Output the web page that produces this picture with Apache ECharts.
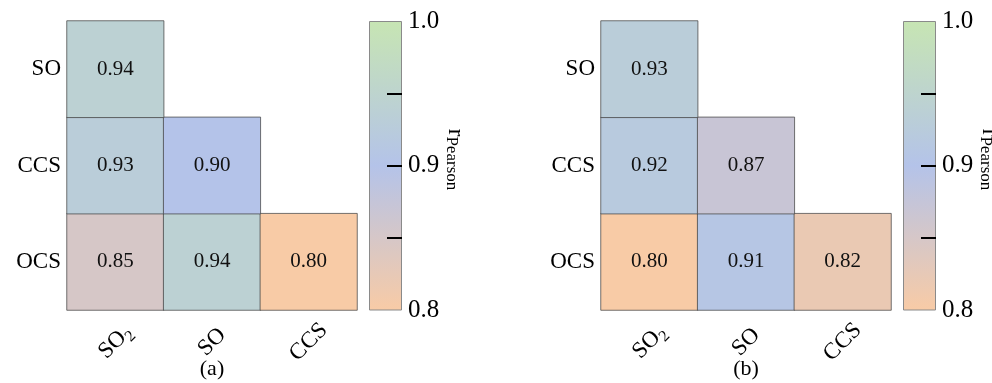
<!DOCTYPE html>
<html><head><meta charset="utf-8">
<script src="https://cdn.jsdelivr.net/npm/echarts@6/dist/echarts.min.js"></script>
<style>html,body{margin:0;padding:0;background:#fff}#c{width:992px;height:383px}</style>
</head><body><div id="c"></div>
<script>
// categories
const xCats = ['SO2', 'SO', 'CCS'];
const yCats = ['OCS', 'CCS', 'SO']; // bottom to top
// panel (a) rows (lower triangle), values by x category from left
const aRowSO = [0.94];
const aRowCCS = [0.93, 0.90];
const aRowOCS = [0.85, 0.94, 0.80];
// panel (b)
const bRowSO = [0.93];
const bRowCCS = [0.92, 0.87];
const bRowOCS = [0.80, 0.91, 0.82];
// colour scale
const cMin = 0.8, cMax = 1.0;
const cbLabelValues = [0.8, 0.9, 1.0];
const cbTickValues = [0.85, 0.9, 0.95];
const captions = ['(a)', '(b)'];

const palette = ['#f8cba6', '#b4c3e9', '#c7e5b3']; // low -> high

function toData(rowSO, rowCCS, rowOCS) {
  const d = [];
  [[rowOCS, 0], [rowCCS, 1], [rowSO, 2]].forEach(([row, yi]) => {
    row.forEach((v, xi) => d.push([xi, yi, v]));
  });
  return d;
}

const FONT = 'Liberation Serif';
const xLabelFmt = v => v === 'SO2' ? '{n|SO}{s|2}' : '{n|' + v + '}';
const xRich = {
  n: { fontFamily: FONT, fontSize: 23, color: '#000', lineHeight: 30, verticalAlign: 'middle' },
  s: { fontFamily: FONT, fontSize: 16, color: '#000', lineHeight: 30, verticalAlign: 'bottom' }
};

const gBase = { outerBoundsMode: 'none', containLabel: false };
const heatGrids = [
  Object.assign({ left: 67, top: 21, width: 290, height: 289 }, gBase),
  Object.assign({ left: 601, top: 21, width: 290, height: 289 }, gBase)
];
const cbGrids = [
  Object.assign({ left: 369, top: 21, width: 33, height: 289 }, gBase),
  Object.assign({ left: 903, top: 21, width: 33, height: 289 }, gBase)
];

const grid = [heatGrids[0], cbGrids[0], heatGrids[1], cbGrids[1]];
const xAxis = [], yAxis = [], series = [];

[0, 1].forEach(p => {
  const hg = p * 2, cg = p * 2 + 1;
  xAxis.push({
    type: 'category', gridIndex: hg, data: xCats,
    axisLine: { show: false }, axisTick: { show: false }, splitLine: { show: false },
    axisLabel: { rotate: 45, align: 'center', verticalAlign: 'middle', margin: 32,
      formatter: xLabelFmt, rich: xRich, interval: 0 }
  });
  yAxis.push({
    type: 'category', gridIndex: hg, data: yCats,
    axisLine: { show: false }, axisTick: { show: false }, splitLine: { show: false },
    axisLabel: { fontFamily: FONT, fontSize: 23, color: '#000', margin: 6 }
  });
  xAxis.push({ type: 'category', gridIndex: cg, data: [''], show: false });
  yAxis.push({
    type: 'value', gridIndex: cg, min: cMin, max: cMax, position: 'right', z: 10,
    splitLine: { show: false }, axisLine: { show: false },
    axisTick: { show: true, inside: true, length: 15, customValues: cbTickValues,
      lineStyle: { color: '#000', width: 2 } },
    axisLabel: { show: true, customValues: cbLabelValues, margin: 6,
      fontFamily: FONT, fontSize: 25, color: '#000', formatter: v => v.toFixed(1) },
    name: '{r|r}{p|Pearson}', nameLocation: 'middle', nameRotate: -90, nameGap: 37,
    nameTextStyle: { padding: [0, 12, 0, 0], rich: {
      r: { fontFamily: FONT, fontSize: 23, color: '#000', lineHeight: 26, verticalAlign: 'bottom' },
      p: { fontFamily: FONT, fontSize: 17, color: '#000', lineHeight: 26, verticalAlign: 'bottom' }
    } }
  });
  const d = p === 0 ? toData(aRowSO, aRowCCS, aRowOCS) : toData(bRowSO, bRowCCS, bRowOCS);
  series.push({
    type: 'heatmap', xAxisIndex: hg, yAxisIndex: hg, data: d,
    itemStyle: { borderColor: 'rgba(70,70,70,0.75)', borderWidth: 1 },
    label: { show: true, fontFamily: FONT, fontSize: 21, color: '#111',
      formatter: o => o.value[2].toFixed(2) },
    emphasis: { disabled: true }
  });
  series.push({
    type: 'bar', xAxisIndex: cg, yAxisIndex: cg, data: [cMax], barWidth: '100%',
    silent: true, z: 1,
    itemStyle: {
      borderColor: '#8a8a8a', borderWidth: 1,
      color: { type: 'linear', x: 0, y: 0, x2: 0, y2: 1, colorStops: [
        { offset: 0, color: palette[2] }, { offset: 0.5, color: palette[1] }, { offset: 1, color: palette[0] }
      ] }
    }
  });
});

const option = {
  animation: false,
  backgroundColor: '#fff',
  grid, xAxis, yAxis, series,
  visualMap: {
    show: false, type: 'continuous', min: cMin, max: cMax, seriesIndex: [0, 2], dimension: 2,
    inRange: { color: palette }
  },
  title: [
    { text: captions[0], left: 212, top: 358, textAlign: 'center',
      textStyle: { fontFamily: FONT, fontSize: 22, fontWeight: 'normal', color: '#000' }, padding: 0 },
    { text: captions[1], left: 746, top: 358, textAlign: 'center',
      textStyle: { fontFamily: FONT, fontSize: 22, fontWeight: 'normal', color: '#000' }, padding: 0 }
  ]
};
const chart = echarts.init(document.getElementById('c'), null, { renderer: 'canvas' });
chart.setOption(option);
</script>
</body></html>
